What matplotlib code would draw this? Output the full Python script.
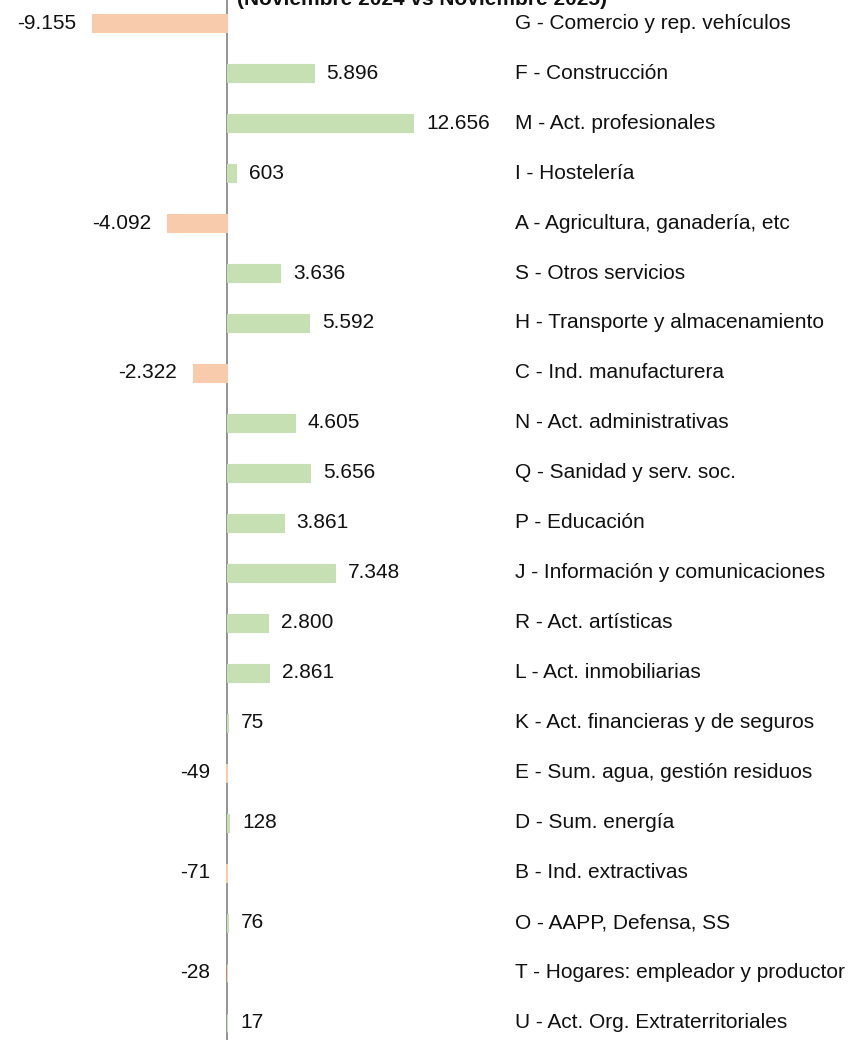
import matplotlib.pyplot as plt
import numpy as np

# Variación de afiliados por sector (Noviembre 2024 vs Noviembre 2025)
sectores = [
    "G - Comercio y rep. vehículos",
    "F - Construcción",
    "M - Act. profesionales",
    "I - Hostelería",
    "A - Agricultura, ganadería, etc",
    "S - Otros servicios",
    "H - Transporte y almacenamiento",
    "C - Ind. manufacturera",
    "N - Act. administrativas",
    "Q - Sanidad y serv. soc.",
    "P - Educación",
    "J - Información y comunicaciones",
    "R - Act. artísticas",
    "L - Act. inmobiliarias",
    "K - Act. financieras y de seguros",
    "E - Sum. agua, gestión residuos",
    "D - Sum. energía",
    "B - Ind. extractivas",
    "O - AAPP, Defensa, SS",
    "T - Hogares: empleador y productor",
    "U - Act. Org. Extraterritoriales",
]
variacion = [-9155, 5896, 12656, 603, -4092, 3636, 5592, -2322, 4605, 5656,
             3861, 7348, 2800, 2861, 75, -49, 128, -71, 76, -28, 17]

verde = "#C6E0B4"
naranja = "#F8CBAD"

def fmt(v):
    return f"{v:,}".replace(",", ".")

W, H = 854, 1040
fig = plt.figure(figsize=(W / 100, H / 100), dpi=100)
ax = fig.add_axes([0, 0, 1, 1])

px = 186 / 12656          # pixels per unit
x0 = 227                  # pixel of the zero line
ax.set_xlim(-x0 / px, (W - x0) / px)
ax.set_ylim((H - 23) / 50, -23 / 50)
ax.axis("off")

y = np.arange(len(sectores))
colores = [verde if v >= 0 else naranja for v in variacion]
ax.axvline(0, color="#808080", linewidth=1.2, zorder=1)
ax.barh(y, variacion, height=0.36, color=colores, edgecolor=colores, linewidth=0.8, zorder=2)

num_font = dict(family=["Liberation Sans", "DejaVu Sans"], fontsize=15)
cat_font = dict(family=["Liberation Sans Narrow", "Liberation Sans", "DejaVu Sans"], fontsize=15)

for i, v in enumerate(variacion):
    if v >= 0:
        ax.text(v + 13 / px, i, fmt(v), ha="left", va="center", color="#111111", **num_font)
    else:
        ax.text(v - 16 / px, i, fmt(v), ha="right", va="center", color="#111111", **num_font)
    ax.text((515 - x0) / px, i, sectores[i], ha="left", va="center", color="#111111", **cat_font)

fig.text(237 / W, 1 - 5 / H, "(Noviembre 2024 vs Noviembre 2025)", ha="left", va="baseline",
         fontweight="bold", color="#111111", **cat_font)

fig.savefig("out.png", dpi=100)
